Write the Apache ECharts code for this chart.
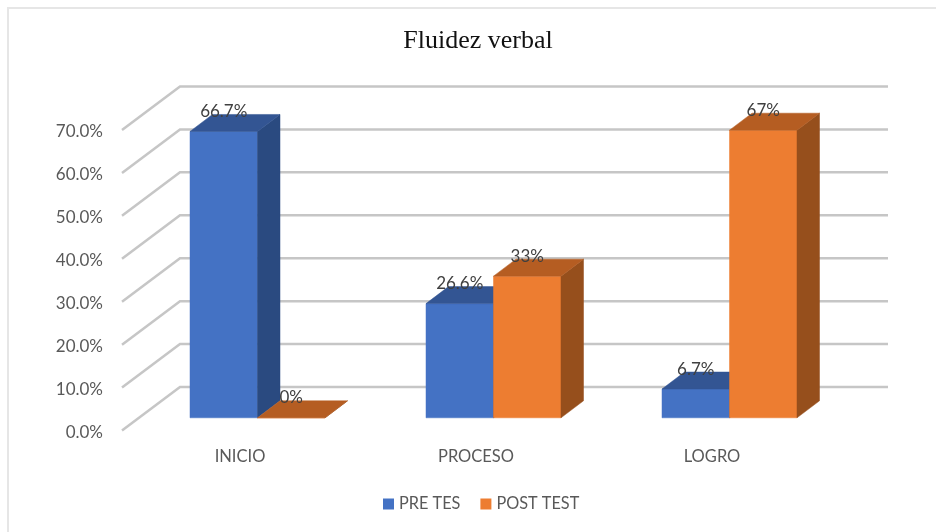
<!DOCTYPE html>
<html>
<head>
<meta charset="utf-8">
<style>html,body{margin:0;padding:0;background:#fff}#c{width:936px;height:532px;filter:blur(0.4px)}</style>
<script src="https://cdn.jsdelivr.net/npm/echarts@6/dist/echarts.min.js"></script>
</head>
<body>
<div id="c"></div>
<script>
const categories = ['INICIO', 'PROCESO', 'LOGRO'];
const preTes = [66.7, 26.6, 6.7];
const postTest = [0, 33, 67];
const gridTicks = [0, 10, 20, 30, 40, 50, 60, 70];

const WALL_DX = 58, WALL_DY = -43.5;      // wall depth
const NEAR_DX = 17.5, NEAR_DY = -12.7;    // bar front plane
const DEPTH_DX = 22.5, DEPTH_DY = -17;    // bar depth
const BAR_W = 67.5;

function barRender(offsetSign, front, top, side) {
  return function (params, api) {
    const cat = api.value(0), v = api.value(1);
    const base = api.coord([cat, 0]);
    const head = api.coord([cat, v]);
    const x0 = base[0] + NEAR_DX + (offsetSign < 0 ? -BAR_W : 0);
    const x1 = x0 + BAR_W;
    const yb = base[1] + NEAR_DY, yt = head[1] + NEAR_DY;
    const poly = (pts, fill) => ({ type: 'polygon', shape: { points: pts }, style: { fill: fill, stroke: fill, lineWidth: 0.5 } });
    return {
      type: 'group',
      children: [
        poly([[x0, yb], [x1, yb], [x1, yt], [x0, yt]], front),
        poly([[x1, yb], [x1 + DEPTH_DX, yb + DEPTH_DY], [x1 + DEPTH_DX, yt + DEPTH_DY], [x1, yt]], side),
        poly([[x0, yt], [x1, yt], [x1 + DEPTH_DX, yt + DEPTH_DY], [x0 + DEPTH_DX, yt + DEPTH_DY]], top),
        { type: 'text', z2: 100, style: {
            x: (x0 + x1) / 2, y: yt - 20, text: v + '%', fill: '#404040',
            font: '17px Lato', align: 'center', verticalAlign: 'middle' } }
      ]
    };
  };
}

const chart = echarts.init(document.getElementById('c'), null, { renderer: 'canvas' });
chart.setOption({
  animation: false,
  backgroundColor: '#fff',
  title: {
    text: 'Fluidez verbal', left: 473, top: 23, textAlign: 'center',
    textStyle: { fontFamily: 'Liberation Serif', fontSize: 26, fontWeight: 'normal', color: '#111' }
  },
  legend: {
    data: ['PRE TES', 'POST TEST'], left: 383, top: 496, padding: 0, icon: 'rect',
    itemWidth: 11, itemHeight: 11, itemGap: 20,
    textStyle: { fontFamily: 'Lato', fontSize: 16.3, color: '#595959' }
  },
  grid: { left: 122, right: 106, top: 130, bottom: 101.5 },
  xAxis: {
    type: 'category', data: categories,
    axisLine: { show: false }, axisTick: { show: false }, splitLine: { show: false },
    axisLabel: { margin: 18, fontFamily: 'Lato', fontSize: 16.5, color: '#595959' }
  },
  yAxis: {
    type: 'value', min: 0, max: 70, interval: 10,
    axisLine: { show: false }, axisTick: { show: false }, splitLine: { show: false },
    axisLabel: { margin: 19, fontFamily: 'Lato', fontSize: 17, color: '#595959',
      verticalAlign: 'top', lineHeight: 4, formatter: v => v.toFixed(1) + '%' }
  },
  graphic: [{
    type: 'polyline', silent: true, z: -1,
    shape: { points: [[8, 532], [8, 8], [936, 8]] },
    style: { stroke: '#e6e6e6', lineWidth: 2, fill: null }
  }],
  series: [
    {
      name: 'walls', type: 'custom', silent: true, z: 1,
      data: gridTicks.map(t => [0, t]), encode: { x: 0, y: 1 },
      renderItem: function (params, api) {
        const y = api.coord([0, api.value(1)])[1];
        const xl = params.coordSys.x, xr = xl + params.coordSys.width;
        return {
          type: 'polyline',
          shape: { points: [[xl, y], [xl + WALL_DX, y + WALL_DY], [xr + WALL_DX, y + WALL_DY]] },
          style: { stroke: '#c6c6c6', lineWidth: 2.5, fill: null }
        };
      }
    },
    {
      name: 'PRE TES', type: 'custom', z: 2, silent: true,
      itemStyle: { color: '#4472C4' }, encode: { x: 0, y: 1 },
      data: preTes.map((v, i) => [i, v]),
      renderItem: barRender(-1, '#4472C4', '#335593', '#2A4A80')
    },
    {
      name: 'POST TEST', type: 'custom', z: 3, silent: true,
      itemStyle: { color: '#ED7D31' }, encode: { x: 0, y: 1 },
      data: postTest.map((v, i) => [i, v]),
      renderItem: barRender(1, '#ED7D31', '#B55D22', '#964F1C')
    }
  ]
});
</script>
</body>
</html>
